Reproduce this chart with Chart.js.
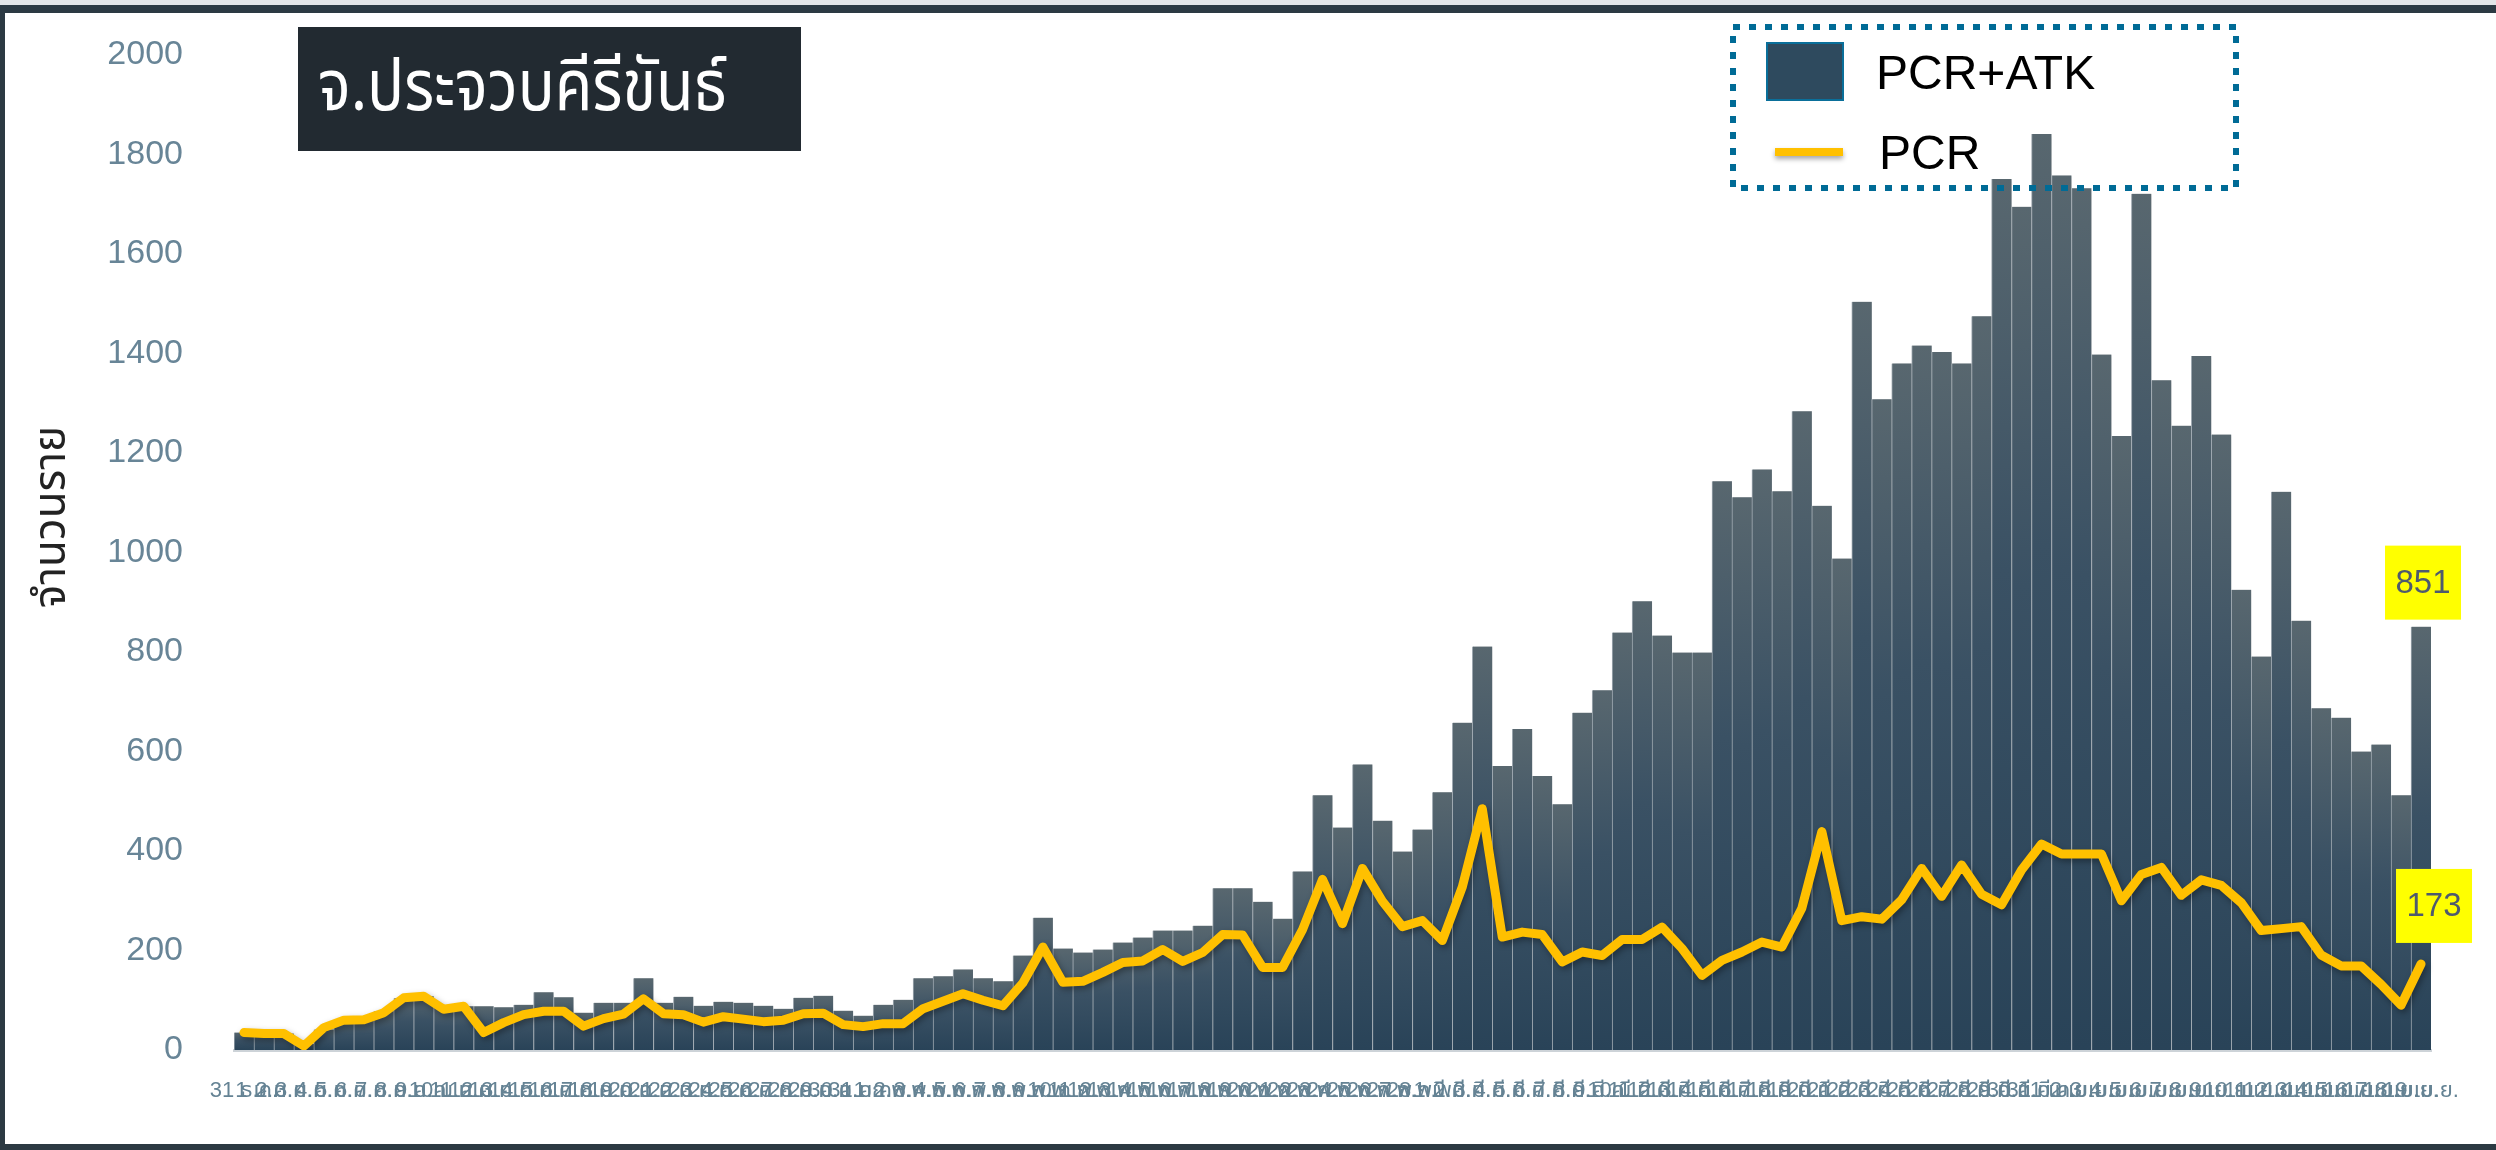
<!DOCTYPE html>
<html>
<head>
<meta charset="utf-8">
<script src="https://cdn.jsdelivr.net/npm/chart.js@4.4.1/dist/chart.umd.min.js"></script>
<style>
  html, body { margin: 0; padding: 0; background: #fff; overflow: hidden; }
  #wrap { width: 2496px; height: 1150px; position: relative; }
</style>
</head>
<body>
<div id="wrap"><canvas id="grafico"></canvas></div>
<script>
// Meses (abreviação tailandesa) e intervalo de dias de cada um
const meses = ['ธ.ค.', 'ม.ค.', 'ก.พ.', 'มี.ค.', 'เม.ย.'];
const diaInicio = [31, 1, 1, 1, 1];
const diaFim = [31, 31, 28, 31, 19];

// PCR+ATK (barras)
const pcrAtk = [
  35, 34, 33, 12, 41, 58, 60, 78, 104, 108,
  88, 88, 88, 86, 91, 116, 106, 75, 95, 95,
  144, 95, 107, 89, 97, 95, 89, 83, 105, 109,
  79, 69, 91, 101, 144, 148, 162, 144, 138, 190,
  266, 204, 196, 202, 216, 226, 240, 240, 250, 325,
  325, 298, 264, 359, 512, 447, 574, 461, 399, 443,
  518, 658, 811, 571, 645, 551, 494, 678, 723, 839,
  902, 833, 799, 799, 1143, 1111, 1167, 1123, 1284, 1094,
  988, 1504, 1308, 1380, 1416, 1403, 1380, 1475, 1751, 1695,
  1841, 1758, 1732, 1398, 1234, 1721, 1346, 1255, 1395, 1237,
  925, 791, 1122, 863, 687, 668, 600, 614, 512, 851
];

// PCR (linha)
const pcr = [
  35, 33, 33, 8, 45, 60, 61, 75, 105, 108,
  82, 88, 35, 55, 71, 78, 78, 48, 63, 72,
  103, 73, 71, 56, 67, 62, 57, 60, 73, 74,
  51, 47, 53, 53, 83, 98, 113, 100, 89, 135,
  207, 136, 138, 156, 176, 179, 202, 178, 196, 232,
  231, 166, 166, 242, 343, 254, 365, 299, 248, 260,
  220, 328, 485, 227, 237, 232, 177, 197, 190, 222,
  222, 247, 204, 150, 180, 197, 217, 207, 285, 439,
  260, 268, 263, 302, 365, 309, 372, 313, 292, 362,
  414, 394, 394, 394, 300, 353, 367, 311, 342, 331,
  296, 240, 244, 248, 191, 169, 169, 132, 90, 173
];

const yTicks = [0, 200, 400, 600, 800, 1000, 1200, 1400, 1600, 1800, 2000];

// Monta os rótulos do eixo X
const rotulos = [];
meses.forEach((m, i) => {
  for (let d = diaInicio[i]; d <= diaFim[i]; d++) rotulos.push(d + ' ' + m);
});

const fonte = '"Liberation Sans", Arial, "Noto Sans Thai", sans-serif';
const fonteThai = '"Noto Sans Thai", "Noto Sans Thai Looped", "Liberation Sans", sans-serif';

// Gradiente de cada barra (claro em cima, escuro embaixo)
function gradienteBarra(context) {
  const chart = context.chart;
  const { ctx, chartArea, scales } = chart;
  if (!chartArea || context.type !== 'data') return '#2e4a5e';
  const topo = scales.y.getPixelForValue(context.raw);
  const base = scales.y.getPixelForValue(0);
  const g = ctx.createLinearGradient(0, topo, 0, base + 0.01);
  g.addColorStop(0, '#58676f');
  g.addColorStop(0.45, '#3a5164');
  g.addColorStop(1, '#294358');
  return g;
}

// Fundo e moldura escura
const moldura = {
  id: 'moldura',
  beforeDraw(chart) {
    const c = chart.ctx;
    c.save();
    c.fillStyle = '#ffffff';
    c.fillRect(0, 0, chart.width, chart.height);
    c.fillStyle = '#e3e6e8';
    c.fillRect(0, 0, chart.width, 5);
    c.fillStyle = '#2c3a43';
    c.fillRect(0, 5, chart.width, 8);
    c.fillRect(0, 5, 5, chart.height - 5);
    c.fillRect(0, chart.height - 6, chart.width, 6);
    c.restore();
  }
};

// Sombras da linha e das barras
const sombra = {
  id: 'sombra',
  beforeDatasetDraw(chart, args) {
    const c = chart.ctx;
    c.save();
    if (args.index === 1) {
      c.shadowColor = 'rgba(0,0,0,0.35)';
      c.shadowBlur = 6;
      c.shadowOffsetX = 2;
      c.shadowOffsetY = 3;
    } else {
      c.shadowColor = 'rgba(0,0,0,0.22)';
      c.shadowBlur = 5;
      c.shadowOffsetX = 3;
    }
  },
  afterDatasetDraw(chart) {
    chart.ctx.restore();
  }
};

function caixaValor(c, texto, cx, baixo) {
  const w = 76, h = 74;
  c.fillStyle = '#ffff00';
  c.fillRect(cx - w / 2, baixo - h, w, h);
  c.fillStyle = '#4e5a6e';
  c.font = '33px ' + fonte;
  c.textAlign = 'center';
  c.textBaseline = 'middle';
  c.fillText(texto, cx, baixo - h / 2 + 1);
}

// Título, legenda, título do eixo Y e rótulos finais
const extras = {
  id: 'extras',
  afterDraw(chart) {
    const c = chart.ctx;
    const xs = chart.scales.x, ys = chart.scales.y;
    c.save();

    // caixa do título (fonte estreitada na horizontal)
    c.fillStyle = '#222a31';
    c.fillRect(298, 27, 503, 124);
    c.fillStyle = '#ffffff';
    c.textAlign = 'left';
    c.textBaseline = 'alphabetic';
    c.font = '72px ' + fonteThai;
    const larg = c.measureText('จ.ประจวบคีรีขันธ์').width;
    c.save();
    c.translate(318, 110);
    c.scale(Math.min(1, 409 / larg), 1);
    c.fillText('จ.ประจวบคีรีขันธ์', 0, 0);
    c.restore();

    // título do eixo Y
    c.save();
    c.translate(56, 517);
    c.rotate(-Math.PI / 2);
    c.fillStyle = '#222222';
    c.font = '44px ' + fonteThai;
    c.textAlign = 'center';
    c.textBaseline = 'middle';
    c.fillText('จำนวนราย', 0, 0);
    c.restore();

    // legenda com borda pontilhada
    c.strokeStyle = '#006b96';
    c.lineWidth = 6;
    c.setLineDash([7, 9]);
    c.strokeRect(1733, 27, 503, 161);
    c.setLineDash([]);
    c.fillStyle = '#2e4a5e';
    c.fillRect(1767, 43, 76, 57);
    c.strokeStyle = '#0a6f9a';
    c.lineWidth = 2;
    c.strokeRect(1767, 43, 76, 57);
    c.save();
    c.shadowColor = 'rgba(0,0,0,0.35)';
    c.shadowBlur = 5;
    c.shadowOffsetY = 3;
    c.strokeStyle = '#ffc000';
    c.lineWidth = 8;
    c.beginPath();
    c.moveTo(1775, 152);
    c.lineTo(1843, 152);
    c.stroke();
    c.restore();
    c.fillStyle = '#000000';
    c.font = '48px ' + fonte;
    c.textAlign = 'left';
    c.textBaseline = 'alphabetic';
    c.fillText('PCR+ATK', 1876, 89);
    c.fillText('PCR', 1879, 169);

    // rótulos dos últimos valores
    const n = pcrAtk.length - 1;
    const xb = xs.getPixelForValue(n);
    caixaValor(c, String(pcrAtk[n]), xb + 2, ys.getPixelForValue(pcrAtk[n]) - 7);
    caixaValor(c, String(pcr[n]), xb + 13, ys.getPixelForValue(pcr[n]) - 21);

    c.restore();
  }
};

const ctx = document.getElementById('grafico').getContext('2d');

const data = {
  labels: rotulos,
  datasets: [
    {
      type: 'bar',
      label: 'PCR+ATK',
      data: pcrAtk,
      backgroundColor: gradienteBarra,
      borderColor: '#a1abb3',
      borderWidth: { left: 1, right: 0, top: 0, bottom: 0 },
      borderSkipped: false,
      categoryPercentage: 1,
      barPercentage: 1,
      order: 2
    },
    {
      type: 'line',
      label: 'PCR',
      data: pcr,
      borderColor: '#ffc000',
      borderWidth: 9,
      pointRadius: 0,
      tension: 0,
      borderJoinStyle: 'round',
      borderCapStyle: 'round',
      order: 1
    }
  ]
};

const config = {
  data: data,
  plugins: [moldura, sombra, extras],
  options: {
    responsive: true,
    maintainAspectRatio: false,
    animation: false,
    devicePixelRatio: 1,
    layout: { padding: { left: 20, top: 55, right: 65, bottom: 0 } },
    plugins: {
      legend: { display: false },
      tooltip: { enabled: false }
    },
    scales: {
      x: {
        grid: { display: false, drawTicks: false },
        border: { display: true, color: '#cdd3d8', width: 3 },
        ticks: {
          color: '#658394',
          font: { family: fonte, size: 22 },
          autoSkip: false,
          maxRotation: 0,
          minRotation: 0,
          padding: 28
        },
        afterFit: (s) => { s.height = 100; }
      },
      y: {
        min: 0,
        max: 2000,
        grid: { display: false, drawTicks: false },
        border: { display: false },
        afterBuildTicks: (s) => { s.ticks = yTicks.map(v => ({ value: v })); },
        ticks: {
          color: '#688597',
          font: { family: fonte, size: 34 },
          padding: 51,
          callback: (v) => String(v)
        },
        // largura fixa e sem folga extra em cima/embaixo
        afterFit: (s) => { s.width = 214; s.paddingTop = 0; s.paddingBottom = 0; }
      }
    }
  }
};

new Chart(ctx, config);
</script>
</body>
</html>
